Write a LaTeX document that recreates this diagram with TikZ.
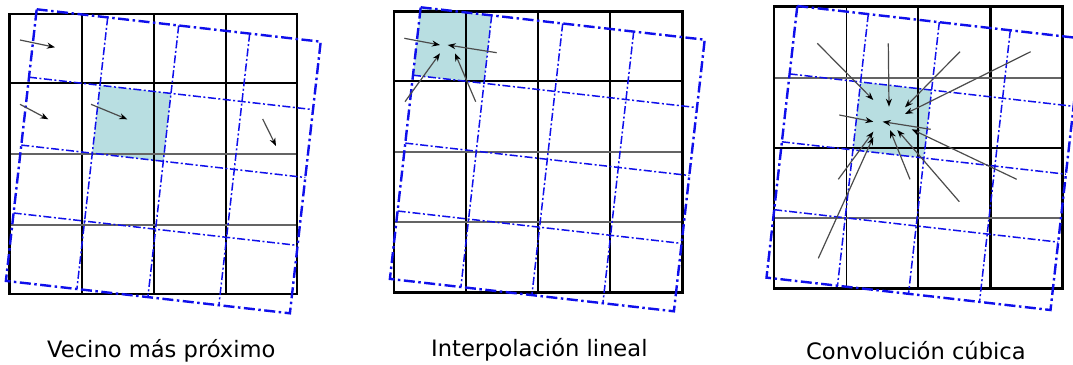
\documentclass[tikz,border=0pt]{standalone}
\usepackage{fontspec}
\setmainfont{DejaVu Sans}
\usetikzlibrary{arrows.meta}
\definecolor{cellfill}{RGB}{184,222,225}
\definecolor{gridgray}{RGB}{100,100,100}
\definecolor{arrowgray}{RGB}{75,75,75}
\definecolor{rotblue}{RGB}{15,15,235}
\tikzset{
  blackthick/.style={line width=2.8pt, black},
  blackmid/.style={line width=2pt, black},
  blackthin/.style={line width=1.3pt, black},
  grayline/.style={line width=1.7pt, gridgray},
  rotinner/.style={rotblue, line width=1.5pt, dash pattern=on 8pt off 2.5pt on 2pt off 2.5pt},
  rotouter/.style={rotblue, line width=2.4pt, dash pattern=on 11pt off 3.5pt on 2.5pt off 3.5pt},
  interp/.style={arrowgray, line width=1.2pt, -{Stealth[black,length=8pt,width=6pt]}},
  caption/.style={font=\fontsize{22.6}{26}\selectfont, anchor=base west, inner sep=0pt},
  rotframe/.style={x={(71pt,-8.1pt)}, y={(-7.7pt,-67.9pt)}}
}
\newcommand\myrotgrid[1]{%
  \begin{scope}[shift={#1}, rotframe]
    \foreach \k in {1,2,3}{
      \draw[rotinner] (\k,0) -- (\k,4);
      \draw[rotinner] (0,\k) -- (4,\k);
    }
    \draw[rotouter] (0,0) -- (4,0) -- (4,4) -- (0,4) -- cycle;
  \end{scope}}
\newcommand\myrotcell[3]{%
  \begin{scope}[shift={#1}, rotframe]
    \fill[cellfill] (#2,#3) -- (#2+1,#3) -- (#2+1,#3+1) -- (#2,#3+1) -- cycle;
  \end{scope}}
\begin{document}
\begin{tikzpicture}[x=1pt,y=-1pt]
\useasboundingbox (0,0) rectangle (1073,364);
\clip (0,0) rectangle (1073,364);

% ---------- panel 1 ----------
\myrotcell{(36.7,9.3)}{1}{1}
\draw[blackmid] (81.7,14) -- (81.7,294);
\draw[blackmid] (154,14) -- (154,294);
\draw[blackthick] (226,14) -- (226,294);
\draw[blackthick] (9.3,83) -- (297,83);
\draw[grayline] (9.3,154) -- (297,154);
\draw[grayline] (9.3,225) -- (297,225);
\draw[blackthick] (9.3,14) rectangle (297,294);
\myrotgrid{(36.7,9.3)}
\draw[interp] (20,40) -- (55,47.3);
\draw[interp] (20,104.3) -- (48.3,119.3);
\draw[interp] (91,104.3) -- (127.3,119.3);
\draw[interp] (262.7,119) -- (276,146);

% ---------- panel 2 ----------
\myrotcell{(420.7,7.3)}{0}{0}
\draw[blackthick] (466,11.7) -- (466,292.7);
\draw[blackmid] (538.3,11.7) -- (538.3,292.7);
\draw[blackmid] (610,11.7) -- (610,292.7);
\draw[blackmid] (394,81) -- (682.7,81);
\draw[grayline] (394,152.3) -- (682.7,152.3);
\draw[grayline] (394,221.7) -- (682.7,221.7);
\draw[blackthick] (394,11.7) rectangle (682.7,292.7);
\myrotgrid{(420.7,7.3)}
\draw[interp] (404.3,38.3) -- (440,45);
\draw[interp] (496.7,52.7) -- (447.7,45);
\draw[interp] (405,101.7) -- (440,53.3);
\draw[interp] (475.7,101.7) -- (455,53.3);

% ---------- panel 3 ----------
\myrotcell{(797.3,6)}{1}{1}
\draw[blackthin] (846.7,6.7) -- (846.7,288.3);
\draw[blackmid] (918.3,6.7) -- (918.3,288.3);
\draw[blackthick] (990.7,6.7) -- (990.7,288.3);
\draw[grayline] (774,78.3) -- (1062.7,78.3);
\draw[blackmid] (774,148.3) -- (1062.7,148.3);
\draw[grayline] (774,218.3) -- (1062.7,218.3);
\draw[blackthick] (774,6.7) rectangle (1062.7,288.3);
\myrotgrid{(797.3,6)}
\draw[interp] (817.3,43.3) -- (873.3,100);
\draw[interp] (888.3,43.3) -- (889,106.7);
\draw[interp] (960,51.7) -- (905,107.3);
\draw[interp] (1030.7,51.7) -- (905,114);
\draw[interp] (839.3,115) -- (873.3,121.7);
\draw[interp] (930.7,129.3) -- (882.7,121.7);
\draw[interp] (838.3,179.3) -- (873.3,131.7);
\draw[interp] (818.3,258.3) -- (873.3,137);
\draw[interp] (910,179.3) -- (890,130);
\draw[interp] (959.3,201.7) -- (897.3,130);
\draw[interp] (1016.7,179.3) -- (911.7,129.3);

% ---------- captions ----------
\node[caption] (cap1) at (47,357) {Vecino más próximo};
\node[caption] (cap2) at (431,356) {Interpolación lineal};
\node[caption] (cap3) at (806,359) {Convolución cúbica};
\end{tikzpicture}
\end{document}
